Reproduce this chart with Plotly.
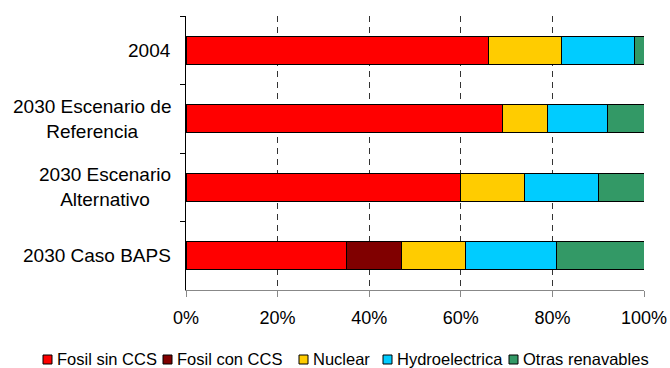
import plotly.graph_objects as go

# Scenario categories (top to bottom)
categories = [
    "2004",
    "2030 Escenario de<br>Referencia",
    "2030 Escenario<br>Alternativo",
    "2030 Caso BAPS",
]

# Share of electricity generation by source (%)
series_names = ["Fosil sin CCS", "Fosil con CCS", "Nuclear", "Hydroelectrica", "Otras renavables"]
fosil_sin_ccs = [66, 69, 60, 35]
fosil_con_ccs = [0, 0, 0, 12]
nuclear = [16, 10, 14, 14]
hydro = [16, 13, 16, 20]
otras_renov = [2, 8, 10, 19]

x_ticks = [0, 20, 40, 60, 80, 100]
x_tick_labels = ["0%", "20%", "40%", "60%", "80%", "100%"]

colors = ["#FF0000", "#800000", "#FFCC00", "#00CCFF", "#339966"]
FONT = "Liberation Sans, Arial, sans-serif"

fig = go.Figure()
for name, vals, col in zip(series_names,
                           [fosil_sin_ccs, fosil_con_ccs, nuclear, hydro, otras_renov],
                           colors):
    fig.add_trace(go.Bar(
        y=categories, x=vals, name=name, orientation="h",
        marker=dict(color=col, line=dict(color="#000000", width=1)),
        showlegend=False, hoverinfo="x+name",
    ))

# Category labels, centred line by line, to the left of the axis
for i, cat in enumerate(categories):
    fig.add_annotation(
        xref="paper", yref="y", x=0, y=i, xshift=-13,
        xanchor="right", yanchor="middle", align="center",
        text=cat, showarrow=False,
        font=dict(family=FONT, size=19, color="#000000"),
    )

# Legend row below the chart: swatch + label per series
legend_x = [43, 163, 299, 383, 509]  # swatch left edges in px
W, H = 670, 368
ML, MR, MT, MB = 186, 26, 16, 78
pw = W - ML - MR
ph = H - MT - MB
leg_y_px = 359
for name, col, px in zip(series_names, colors, legend_x):
    x0 = (px - ML) / pw
    x1 = (px + 9 - ML) / pw
    y0 = (H - MB - (leg_y_px + 5)) / ph
    y1 = (H - MB - (leg_y_px - 4)) / ph
    fig.add_shape(type="rect", xref="paper", yref="paper",
                  x0=x0, x1=x1, y0=y0, y1=y1,
                  fillcolor=col, line=dict(color="#000000", width=1))
    fig.add_annotation(
        xref="paper", yref="paper",
        x=(px + 13 - ML) / pw, y=(H - MB - leg_y_px) / ph,
        xanchor="left", yanchor="middle", text=name, showarrow=False,
        borderpad=0,
        font=dict(family=FONT, size=16.5, color="#000000"),
    )

fig.update_layout(
    width=W, height=H,
    margin=dict(l=ML, r=MR, t=MT, b=MB, autoexpand=False),
    barmode="stack", bargap=0.59,
    plot_bgcolor="#FFFFFF", paper_bgcolor="#FFFFFF",
    font=dict(family=FONT, size=18, color="#000000"),
    xaxis=dict(
        range=[0, 100], tickvals=x_ticks, ticktext=x_tick_labels,
        showgrid=True, gridcolor="#333333", gridwidth=1, griddash="6px,5px",
        showline=True, linecolor="#888888", linewidth=1,
        ticks="outside", ticklen=6, tickcolor="#888888",
        ticklabelstandoff=5,
        zeroline=False, automargin=False, tickfont=dict(family=FONT, size=18),
    ),
    yaxis=dict(
        type="category", categoryorder="array", categoryarray=categories,
        range=[len(categories) - 0.5, -0.5], showticklabels=False,
        showline=True, linecolor="#000000", linewidth=1,
        ticks="outside", tickson="boundaries", ticklen=5, tickcolor="#000000",
        showgrid=False, zeroline=False, automargin=False,
    ),
)

fig.write_html("out.html")
